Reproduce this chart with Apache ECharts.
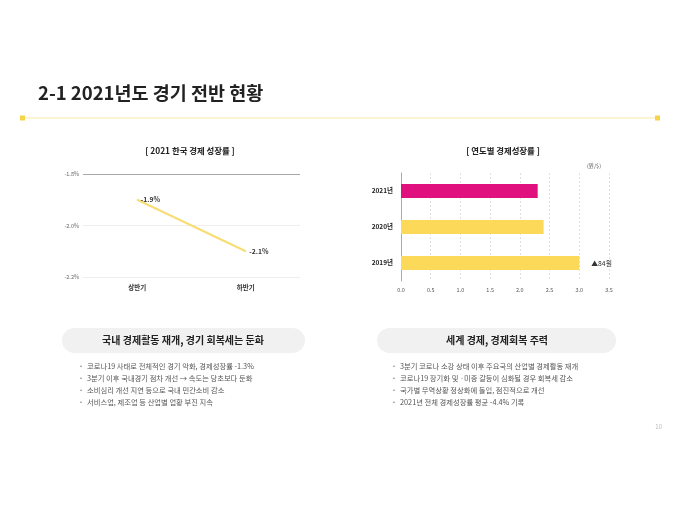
<!DOCTYPE html>
<html><head><meta charset="utf-8">
<script src="https://cdn.jsdelivr.net/npm/echarts@6/dist/echarts.min.js"></script>
<style>html,body{margin:0;padding:0;background:#fff}#c{width:680px;height:510px}</style>
</head><body><div id="c"></div>
<script>
const halfCategories = ['상반기', '하반기'];
const halfGrowth = [-1.9, -2.1];
const halfTicks = [-2.2, -2.0, -1.8];
const yearCategories = ['2019년', '2020년', '2021년'];
const yearGrowth = [3.0, 2.4, 2.3];
const yearTicks = [0, 0.5, 1.0, 1.5, 2.0, 2.5, 3.0, 3.5];
const yearNote = ['▲84원', '', ''];
const leftBullets = [
  '코로나19 사태로 전체적인 경기 악화, 경제성장률 -1.3%',
  '3분기 이후 국내경기 점차 개선 → 속도는 당초보다 둔화',
  '소비심리 개선 지연 등으로 국내 민간소비 감소',
  '서비스업, 제조업 등 산업별 업황 부진 지속'
];
const rightBullets = [
  '3분기 코로나 소강 상태 이후 주요국의 산업별 경제활동 재개',
  '코로나19 장기화 및 ·미중 갈등이 심화될 경우 회복세 감소',
  '국가별 무역상황 정상화에 돌입, 점진적으로 개선',
  '2021년 전체 경제성장률 평균 -4.4% 기록'
];

const FONT = '"Noto Sans CJK KR", "Noto Sans", sans-serif';
const YELLOW = '#fdd95a';
const MAGENTA = '#e0117f';

const graphics = [
  {type:'text', left:38, top:84, style:{text:'2-1 2021년도 경기 전반 현황', font:'bold 18.5px ' + FONT, fill:'#222'}},
  {type:'line', shape:{x1:22, y1:118, x2:658, y2:118}, style:{stroke:'#fbe9a6', lineWidth:1}},
  {type:'rect', shape:{x:20, y:115.5, width:5, height:5}, style:{fill:'#f7d34a'}},
  {type:'rect', shape:{x:655, y:115.5, width:5, height:5}, style:{fill:'#f7d34a'}},
  {type:'text', x:190, y:151, style:{text:'[ 2021 한국 경제 성장률 ]', font:'bold 8.4px ' + FONT, fill:'#222', align:'center', verticalAlign:'middle'}},
  {type:'text', x:503, y:151, style:{text:'[ 연도별 경제성장률 ]', font:'bold 8.4px ' + FONT, fill:'#222', align:'center', verticalAlign:'middle'}},
  {type:'text', x:594, y:166, style:{text:'(원/$)', font:'5.5px ' + FONT, fill:'#555', align:'center', verticalAlign:'middle'}},
  {type:'rect', shape:{x:62, y:328, width:243, height:25, r:12.5}, style:{fill:'#f1f1f1'}},
  {type:'rect', shape:{x:377, y:328, width:239, height:25, r:12.5}, style:{fill:'#f1f1f1'}},
  {type:'text', x:183, y:340.5, style:{text:'국내 경제활동 재개, 경기 회복세는 둔화', font:'bold 10px ' + FONT, fill:'#222', align:'center', verticalAlign:'middle'}},
  {type:'text', x:497, y:340.5, style:{text:'세계 경제, 경제회복 주력', font:'bold 10px ' + FONT, fill:'#222', align:'center', verticalAlign:'middle'}},
  {type:'text', x:662, y:427, style:{text:'10', font:'6px ' + FONT, fill:'#bbb', align:'right', verticalAlign:'middle'}}
];
leftBullets.forEach((t, i) => {
  graphics.push({type:'text', x:80, y:366 + i * 12, style:{text:'•', font:'6px ' + FONT, fill:'#777', verticalAlign:'middle'}});
  graphics.push({type:'text', x:87, y:366 + i * 12, style:{text:t, font:'7.3px ' + FONT, fill:'#555', verticalAlign:'middle'}});
});
rightBullets.forEach((t, i) => {
  graphics.push({type:'text', x:393, y:366 + i * 12, style:{text:'•', font:'6px ' + FONT, fill:'#777', verticalAlign:'middle'}});
  graphics.push({type:'text', x:400, y:366 + i * 12, style:{text:t, font:'7.3px ' + FONT, fill:'#555', verticalAlign:'middle'}});
});

const chart = echarts.init(document.getElementById('c'), null, {renderer:'canvas'});
chart.setOption({
  animation:false,
  textStyle:{fontFamily:FONT},
  graphic:graphics,
  grid:[
    {left:83, top:174, width:217, height:103},
    {left:401, top:173, width:208, height:108}
  ],
  xAxis:[
    {gridIndex:0, type:'category', data:halfCategories, boundaryGap:true,
     axisLine:{show:false}, axisTick:{show:false},
     axisLabel:{fontSize:6.5, color:'#333', fontWeight:'bold', margin:7}},
    {gridIndex:1, type:'value', min:yearTicks[0], max:yearTicks[yearTicks.length-1], interval:0.5,
     axisLine:{show:false}, axisTick:{show:false},
     axisLabel:{fontSize:5.5, color:'#555', margin:6, formatter:v => v.toFixed(1)},
     splitLine:{lineStyle:{color:'#d8d8d8', type:[2,2], width:0.8}}}
  ],
  yAxis:[
    {gridIndex:0, type:'value', min:halfTicks[0], max:halfTicks[halfTicks.length-1], interval:0.2,
     axisLine:{show:false}, axisTick:{show:false},
     axisLabel:{fontSize:5.5, color:'#666', margin:4, formatter:v => v.toFixed(1) + '%'},
     splitLine:{lineStyle:{color:['#eeeeee','#eeeeee','#a8a8a8'], width:1}}},
    {gridIndex:1, type:'category', data:yearCategories,
     axisLine:{show:true, lineStyle:{color:'#aaa', width:1}}, axisTick:{show:false},
     axisLabel:{fontSize:6.5, color:'#222', fontWeight:'bold', margin:8}}
  ],
  series:[
    {type:'line', xAxisIndex:0, yAxisIndex:0, data:halfGrowth, symbol:'circle', symbolSize:1, showSymbol:true,
     itemStyle:{color:'#f8dc74'},
     lineStyle:{color:'#f8dc74', width:2},
     label:{show:true, position:'right', distance:3, formatter:p => p.value.toFixed(1) + '%',
            fontSize:6.8, fontWeight:'bold', color:'#333'}},
    {type:'bar', xAxisIndex:1, yAxisIndex:1, barWidth:14,
     data:yearGrowth.map((v, i) => ({value:v, itemStyle:{color:i === yearGrowth.length - 1 ? MAGENTA : YELLOW}})),
     label:{show:true, position:'right', distance:12, formatter:p => yearNote[p.dataIndex],
            fontSize:6.8, color:'#333'}}
  ]
});
</script></body></html>
